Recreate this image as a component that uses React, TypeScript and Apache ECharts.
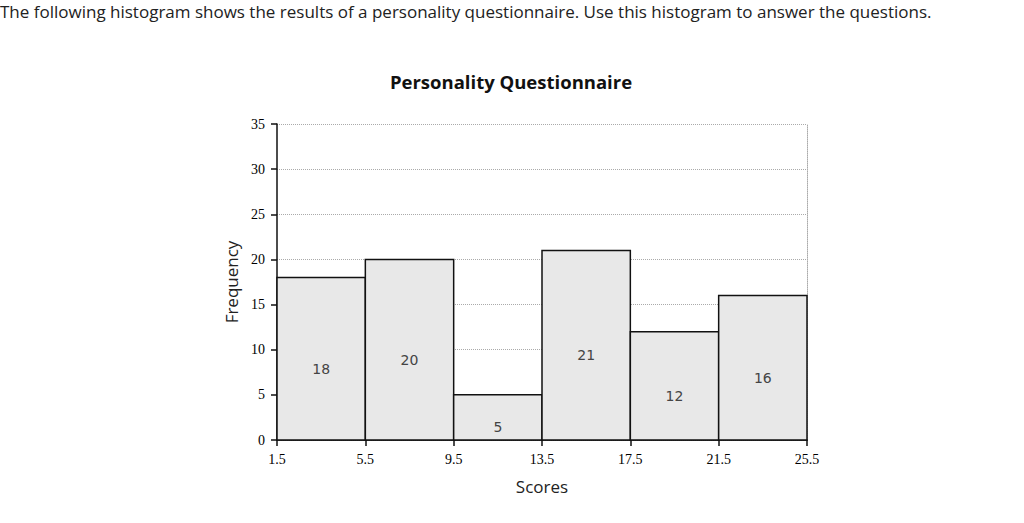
import React, { useEffect, useRef } from "react";
import * as echarts from "echarts";

const binEdges = [1.5, 5.5, 9.5, 13.5, 17.5, 21.5, 25.5];
const frequencies = [18, 20, 5, 21, 12, 16];
const yTicks = [0, 5, 10, 15, 20, 25, 30, 35];
const headerText =
  "The following histogram shows the results of a personality questionnaire. Use this histogram to answer the questions.";
const titleText = "Personality Questionnaire";

export default function App() {
  const ref = useRef<HTMLDivElement>(null);
  useEffect(() => {
    const chart = echarts.init(ref.current!, null, { renderer: "svg" });
    const data = frequencies.map((f, i) => [binEdges[i], binEdges[i + 1], f]);
    chart.setOption({
      animation: false,
      backgroundColor: "#fff",
      title: {
        text: titleText,
        left: 506,
        top: 67,
        textAlign: "center",
        textStyle: { fontFamily: "Open Sans", fontWeight: "bold", fontSize: 18.5, color: "#111" },
      },
      graphic: [
        {
          type: "text",
          left: 0,
          top: 3,
          style: { text: headerText, font: "17px 'Open Sans'", fill: "#222" },
        },
      ],
      grid: { left: 277, right: 217, top: 124, bottom: 83 },
      xAxis: {
        type: "value",
        min: binEdges[0],
        max: binEdges[binEdges.length - 1],
        name: "Scores",
        nameLocation: "middle",
        nameGap: 38,
        nameTextStyle: { fontFamily: "Open Sans", fontSize: 17, color: "#222" },
        axisLine: { show: true, onZero: false, lineStyle: { color: "#111", width: 1.5 } },
        axisTick: { show: true, customValues: binEdges, length: 6, lineStyle: { color: "#111", width: 1.5 } },
        axisLabel: {
          customValues: binEdges,
          formatter: (v: number) => v.toFixed(1),
          fontFamily: "Liberation Serif",
          fontSize: 14,
          color: "#000",
          margin: 12,
        },
        splitLine: { show: false },
      },
      yAxis: [
        {
          type: "value",
          min: yTicks[0],
          max: yTicks[yTicks.length - 1],
          interval: 5,
          name: "Frequency",
          nameLocation: "middle",
          nameGap: 37,
          nameTextStyle: { fontFamily: "Open Sans", fontSize: 17, color: "#222" },
          axisLine: { show: true, lineStyle: { color: "#111", width: 1.5 } },
          axisTick: { show: true, length: 6, lineStyle: { color: "#111", width: 1.5 } },
          axisLabel: { fontFamily: "Liberation Serif", fontSize: 14, color: "#000", margin: 12 },
          splitLine: { show: true, lineStyle: { color: "#aaa", type: "dotted", width: 1 } },
        },
        {
          type: "value",
          min: yTicks[0],
          max: yTicks[yTicks.length - 1],
          interval: 5,
          position: "right",
          axisLine: { show: true, lineStyle: { color: "#aaa", type: "dotted", width: 1 } },
          axisTick: { show: false },
          axisLabel: { show: false },
          splitLine: { show: false },
        },
      ],
      series: [
        {
          type: "custom",
          data,
          encode: { x: [0, 1], y: 2 },
          renderItem: (params: any, api: any) => {
            const x0 = api.value(0);
            const x1 = api.value(1);
            const v = api.value(2);
            const p0 = api.coord([x0, 0]);
            const p1 = api.coord([x1, v]);
            const mid = api.coord([(x0 + x1) / 2, v / 2]);
            return {
              type: "group",
              children: [
                {
                  type: "rect",
                  shape: { x: p0[0], y: p1[1], width: p1[0] - p0[0], height: p0[1] - p1[1] },
                  style: { fill: "#e8e8e8", stroke: "#111", lineWidth: 1.5 },
                },
                {
                  type: "text",
                  x: mid[0],
                  y: mid[1] + 10,
                  style: {
                    text: String(v),
                    align: "center",
                    verticalAlign: "middle",
                    font: "14px 'DejaVu Sans'",
                    fill: "#444",
                  },
                },
              ],
            };
          },
        },
      ],
    });
    return () => chart.dispose();
  }, []);
  return (
    <div
      ref={ref}
      style={{ position: "absolute", left: 0, top: 0, width: 1024, height: 523 }}
    />
  );
}
